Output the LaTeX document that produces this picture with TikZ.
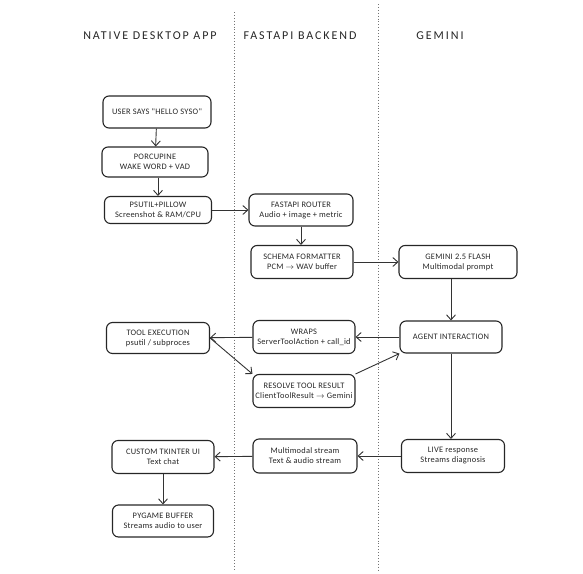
\documentclass[tikz,border=0pt]{standalone}
\usepackage{fontspec}
\setmainfont{Carlito}
\newfontfamily\boxfont[LetterSpace=3]{Carlito}
\newfontfamily\headfont[LetterSpace=16]{Carlito}
\usetikzlibrary{arrows.meta,calc}
\begin{document}
\begin{tikzpicture}[x=1pt,y=-1pt,
  box/.style={draw=black!85,line width=1.1pt,rounded corners=6pt,align=center,
    font=\boxfont\fontsize{8.4}{10}\selectfont,text=black!85,inner sep=1pt},
  conn/.style={draw=black!80,line width=0.9pt,-{Straight Barb[length=5pt,width=9pt]}},
  lane/.style={draw=black!55,line width=0.9pt,dotted},
  head/.style={font=\headfont\fontsize{12}{14}\selectfont,text=black!85}]
\useasboundingbox (0,0) rectangle (583,573);
\coordinate (l1t) at (234,12); \coordinate (l1b) at (234,570);
\coordinate (l2t) at (378,4); \coordinate (l2b) at (378,570);
\draw[lane] (l1t) -- (l1b);
\draw[lane] (l2t) -- (l2b);
\node[head] (h1) at (150,36) {NATIVE DESKTOP APP};
\node[head] (h2) at (300,36) {FASTAPI BACKEND};
\node[head] (h3) at (440,36) {GEMINI};

\node[box,minimum width=108pt,minimum height=32pt] (user) at (157,112) {USER SAYS "HELLO SYSO"};
\node[box,minimum width=106pt,minimum height=30pt] (porc) at (155,162) {PORCUPINE\\WAKE WORD + VAD};
\node[box,minimum width=107pt,minimum height=27pt] (psutil) at (158,210) {PSUTIL+PILLOW\\Screenshot \& RAM/CPU};
\node[box,minimum width=104pt,minimum height=32pt] (router) at (301,210) {FASTAPI ROUTER\\Audio + image + metric};
\node[box,minimum width=102pt,minimum height=33pt] (schema) at (302,262) {SCHEMA FORMATTER\\PCM $\to$ WAV buffer};
\node[box,minimum width=118pt,minimum height=33pt] (gemini) at (458,262) {GEMINI 2.5 FLASH\\Multimodal prompt};
\node[box,minimum width=103pt,minimum height=31pt] (tool) at (158,338) {TOOL EXECUTION\\psutil / subproces};
\node[box,minimum width=102pt,minimum height=33pt] (wraps) at (304,337) {WRAPS\\ServerToolAction + call\_id};
\node[box,minimum width=102pt,minimum height=32pt] (agent) at (451,337) {AGENT INTERACTION};
\node[box,minimum width=102pt,minimum height=33pt] (resolve) at (304,391) {RESOLVE TOOL RESULT\\ClientToolResult $\to$ Gemini};
\node[box,minimum width=102pt,minimum height=33pt] (tk) at (163,457) {CUSTOM TKINTER UI\\Text chat};
\node[box,minimum width=101pt,minimum height=32pt] (pyg) at (163,521) {PYGAME BUFFER\\Streams audio to user};
\node[box,minimum width=104pt,minimum height=34pt] (multi) at (305,456) {Multimodal stream\\Text \& audio stream};
\node[box,minimum width=103pt,minimum height=33pt] (live) at (453,456) {LIVE response\\Streams diagnosis};

\draw[conn] (user) -- (porc);
\draw[conn] (porc.south -| psutil.north) -- (psutil.north);
\draw[conn] (psutil) -- (router);
\draw[conn] (router) -- (schema.north -| router.south);
\draw[conn] (schema) -- (gemini);
\draw[conn] (gemini.south -| agent.north) -- (agent.north);
\draw[conn] (agent) -- (wraps);
\draw[conn] (wraps) -- (tool);
\draw[conn] (tool.east) -- (resolve.north west);
\draw[conn] (resolve.north east) -- (agent.south west);
\draw[conn] (agent.south) -- (agent.south |- live.north);
\draw[conn] (live) -- (multi);
\draw[conn] (multi) -- (tk);
\draw[conn] (tk) -- (pyg);
\end{tikzpicture}
\end{document}
